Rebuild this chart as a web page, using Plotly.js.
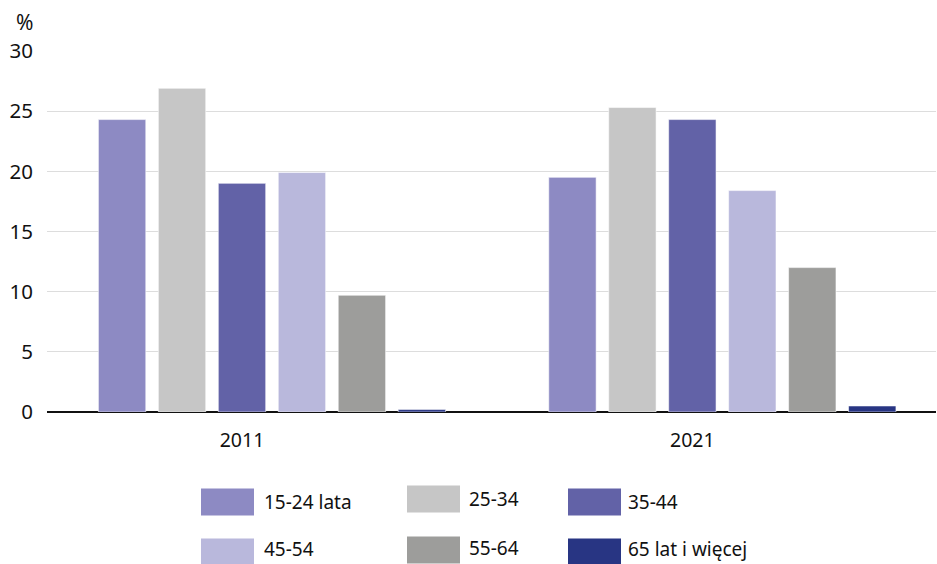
<!DOCTYPE html>
<html>
<head>
<meta charset="utf-8">
<script src="https://cdn.plot.ly/plotly-3.0.1.min.js"></script>
<style>html,body{margin:0;padding:0;background:#fff;}#chart{width:937px;height:564px;}</style>
</head>
<body>
<div id="chart"></div>
<script>
const years = ['2011', '2021'];
const seriesNames = ['15-24 lata', '25-34', '35-44', '45-54', '55-64', '65 lat i więcej'];
const s15_24 = [24.3, 19.5];
const s25_34 = [26.9, 25.3];
const s35_44 = [19.0, 24.3];
const s45_54 = [19.9, 18.4];
const s55_64 = [9.7, 12.0];
const s65plus = [0.2, 0.5];
const seriesValues = [s15_24, s25_34, s35_44, s45_54, s55_64, s65plus];
const colors = ['#8d8ac3', '#c6c6c6', '#6262a7', '#b9b8dc', '#9d9d9b', '#283583'];
const yTicks = [0, 5, 10, 15, 20, 25, 30];

const FONT = '"Noto Sans", sans-serif';
const W = 937, H = 564;
const M = {l: 47, r: 1, t: 51, b: 152};
const pw = W - M.l - M.r, ph = H - M.t - M.b;
const px = x => (x - M.l) / pw;
const py = y => (H - M.b - y) / ph;

// empty leading slot (the reference reserves one slot before the first bar)
const traces = [{
  type: 'bar', x: years, y: [0, 0], showlegend: false, hoverinfo: 'skip',
  marker: {color: 'rgba(0,0,0,0)', line: {width: 0}}
}];
seriesNames.forEach((n, i) => {
  traces.push({
    type: 'bar', name: n, x: years, y: seriesValues[i], showlegend: false,
    marker: {color: colors[i], line: {color: 'rgba(255,255,255,0.55)', width: 1}}
  });
});

// custom legend: 3 columns x 2 rows
const colSw = [201, 407, 568], colTx = [264, 469, 628];
const rowY = [[502, 499, 502], [552, 550, 552]];
const rowTextY = [[502, 499, 502], [549, 548, 549]];
const swW = 53, swH = 27;
const shapes = [], annotations = [];
seriesNames.forEach((n, i) => {
  const r = Math.floor(i / 3), c = i % 3;
  const cy = rowY[r][c];
  shapes.push({type: 'rect', xref: 'paper', yref: 'paper',
    x0: px(colSw[c]), x1: px(colSw[c] + swW), y0: py(cy + swH / 2), y1: py(cy - swH / 2),
    fillcolor: colors[i], line: {width: 0}});
  annotations.push({xref: 'paper', yref: 'paper', x: px(colTx[c] - 2), y: py(rowTextY[r][c]),
    xanchor: 'left', yanchor: 'middle', text: n, showarrow: false,
    font: {family: FONT, size: 19, color: '#111'}});
});
annotations.push({xref: 'paper', yref: 'paper', x: px(35), y: py(22), xanchor: 'right', yanchor: 'middle',
  text: '%', showarrow: false, font: {family: FONT, size: 21, color: '#111'}});

const layout = {
  width: W, height: H, margin: M,
  paper_bgcolor: '#fff', plot_bgcolor: '#fff',
  barmode: 'group', bargap: 0.068, bargroupgap: 0.21,
  showlegend: false,
  font: {family: FONT, color: '#111'},
  xaxis: {type: 'category', range: [-0.433, 1.541], showgrid: false, zeroline: false,
    showline: false, ticks: '', ticklabelstandoff: 14,
    tickfont: {family: FONT, size: 19.5, color: '#111'}, fixedrange: true},
  yaxis: {range: [0, 30], tickvals: yTicks, ticktext: yTicks.map(String),
    showgrid: true, gridcolor: '#dddddd', gridwidth: 1,
    zeroline: true, zerolinecolor: '#111', zerolinewidth: 2,
    showline: false, ticks: '', ticklabelstandoff: 13,
    tickfont: {family: FONT, size: 20.5, color: '#111'}, fixedrange: true},
  shapes: shapes, annotations: annotations
};
Plotly.newPlot('chart', traces, layout, {displayModeBar: false, staticPlot: true});
</script>
</body>
</html>
